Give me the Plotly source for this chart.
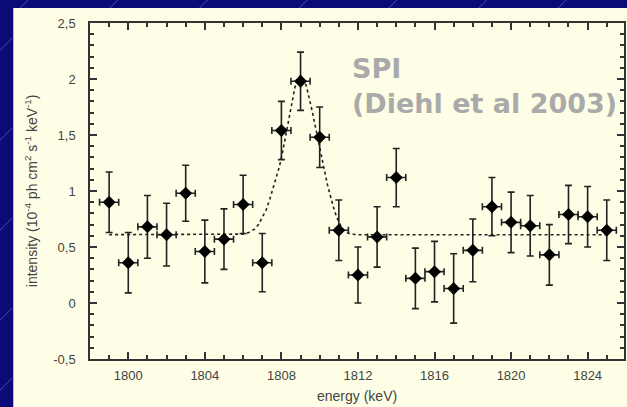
import plotly.graph_objects as go

# ---- data ----
energy = [1799, 1800, 1801, 1802, 1803, 1804, 1805, 1806, 1807, 1808, 1809, 1810, 1811,
          1812, 1813, 1814, 1815, 1816, 1817, 1818, 1819, 1820, 1821, 1822, 1823, 1824, 1825]
intensity = [0.90, 0.36, 0.68, 0.61, 0.98, 0.46, 0.57, 0.88, 0.36, 1.54, 1.98, 1.48, 0.65,
             0.25, 0.59, 1.12, 0.22, 0.28, 0.13, 0.47, 0.86, 0.72, 0.69, 0.43, 0.79, 0.77, 0.65]
intensity_err = [0.27, 0.27, 0.28, 0.28, 0.25, 0.28, 0.27, 0.26, 0.26, 0.26, 0.26, 0.27, 0.27,
                 0.25, 0.27, 0.26, 0.27, 0.27, 0.31, 0.28, 0.26, 0.27, 0.27, 0.27, 0.26, 0.27, 0.27]
energy_err = [0.5] * len(energy)

# dotted fit curve
fit_energy = [1799.0, 1805.0, 1806.0, 1806.3, 1806.6, 1806.8, 1807.0, 1807.2, 1807.4, 1807.65,
              1807.9, 1808.1, 1808.4, 1808.7, 1808.85, 1809.0, 1809.15, 1809.3, 1809.6, 1809.9,
              1810.1, 1810.4, 1810.6, 1810.8, 1811.0, 1811.2, 1811.4, 1811.6, 1812.0, 1825.0]
fit_intensity = [0.61, 0.61, 0.615, 0.63, 0.66, 0.70, 0.76, 0.83, 0.93, 1.07,
                 1.22, 1.38, 1.66, 1.92, 2.00, 2.03, 2.00, 1.94, 1.72, 1.47,
                 1.30, 1.06, 0.93, 0.81, 0.72, 0.66, 0.63, 0.615, 0.61, 0.61]

y_tickvals = [-0.5, 0, 0.5, 1, 1.5, 2, 2.5]
y_ticktext = ["-0,5", "0", "0,5", "1", "1,5", "2", "2,5"]
x_tickvals = [1800, 1804, 1808, 1812, 1816, 1820, 1824]
x_ticktext = ["1800", "1804", "1808", "1812", "1816", "1820", "1824"]

W, H = 627, 407
ML, MR, MT, MB = 90, 1, 23, 48
PW, PH = W - ML - MR, H - MT - MB


def px(x):
    return (x - ML) / PW


def py(y):
    return (H - MB - y) / PH


fig = go.Figure()

fig.add_trace(go.Scatter(
    x=fit_energy, y=fit_intensity, mode="lines",
    line=dict(color="#222222", width=1.6, dash="dot"),
    hoverinfo="skip", showlegend=False,
))

fig.add_trace(go.Scatter(
    x=energy, y=intensity, mode="markers",
    marker=dict(symbol="diamond", size=10, color="black"),
    error_y=dict(type="data", array=intensity_err, color="#222222", thickness=1.6, width=3.5),
    error_x=dict(type="data", array=energy_err, color="#222222", thickness=1.6, width=3.5),
    showlegend=False,
))

axis_common = dict(
    showgrid=False, zeroline=False, showline=True, linecolor="#333333", linewidth=1.5,
    mirror="ticks", ticks="inside", tickcolor="#333333", tickwidth=1.5,
    tickfont=dict(family="Liberation Sans, Arial, sans-serif", size=13, color="#444444"),
)

fig.update_xaxes(
    range=[1798.0, 1825.9], tickmode="array", tickvals=x_tickvals, ticktext=x_ticktext,
    ticklen=7, ticklabelstandoff=4,
    minor=dict(dtick=1, tick0=1799, ticks="inside", ticklen=4, tickcolor="#333333", tickwidth=1.5),
    **axis_common,
)
fig.update_yaxes(
    range=[-0.5, 2.5], tickmode="array", tickvals=y_tickvals, ticktext=y_ticktext,
    ticklen=7, ticklabelstandoff=10,
    minor=dict(dtick=0.1, tick0=0, ticks="inside", ticklen=4, tickcolor="#333333", tickwidth=1.5),
    **axis_common,
)

shapes = [dict(type="rect", xref="paper", yref="paper", layer="below",
               x0=px(13), x1=px(640), y0=py(420), y1=py(8),
               fillcolor="#fefee6", line=dict(width=0))]
# faint diagonal texture on the navy background
for (x0, y0) in [(-10, 60), (-10, 150), (-10, 240), (-10, 330), (-10, 400),
                 (20, 8), (110, 8), (200, 8), (300, 8), (390, 8), (480, 8), (560, 8)]:
    shapes.append(dict(type="line", xref="paper", yref="paper", layer="below",
                       x0=px(x0), y0=py(y0), x1=px(x0 + 22), y1=py(y0 - 22),
                       line=dict(color="rgba(150,160,255,0.45)", width=1)))

fig.update_layout(
    width=W, height=H,
    margin=dict(l=ML, r=MR, t=MT, b=MB),
    paper_bgcolor="#0b0b78",
    plot_bgcolor="rgba(0,0,0,0)",
    shapes=shapes,
    annotations=[
        dict(text="energy (keV)", xref="paper", yref="paper", x=0.5, y=py(396),
             showarrow=False, xanchor="center", yanchor="middle",
             font=dict(family="Liberation Sans, Arial, sans-serif", size=14, color="#444444")),
        dict(text="intensity (10<sup>-4</sup> ph cm<sup>2</sup> s<sup>-1</sup> keV<sup>-1</sup>)",
             xref="paper", yref="paper", x=px(31), y=0.5, textangle=-90,
             showarrow=False, xanchor="center", yanchor="middle",
             font=dict(family="Liberation Sans, Arial, sans-serif", size=14, color="#444444")),
        dict(text="<b>SPI<br>(Diehl et al 2003)</b>", xref="paper", yref="paper",
             x=px(351), y=py(51), xanchor="left", yanchor="top", align="left",
             showarrow=False,
             font=dict(family="DejaVu Sans, sans-serif", size=27, color="#aaaaaa")),
    ],
)

fig.write_html("out.html")
